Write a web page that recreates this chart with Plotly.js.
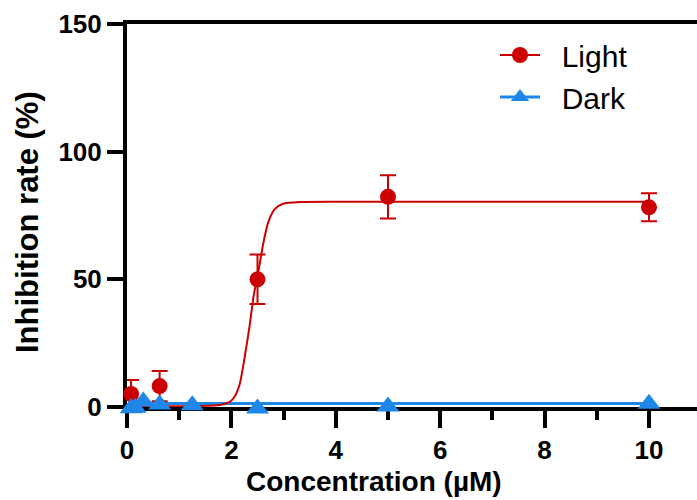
<!DOCTYPE html>
<html>
<head>
<meta charset="utf-8">
<script src="https://cdn.plot.ly/plotly-3.0.1.min.js"></script>
<style>html,body{margin:0;padding:0;background:#fff;}#chart{width:697px;height:500px;}</style>
</head>
<body>
<div id="chart"></div>
<script>
// Measured points
var lightX = [0.078, 0.625, 2.5, 5, 10];
var lightY = [5.1, 8.2, 50, 82.3, 78.2];
var lightErr = [5.5, 5.9, 9.7, 8.5, 5.5];

var darkX = [0.078, 0.156, 0.3125, 0.625, 1.25, 2.5, 5, 10];
var darkY = [-0.5, -0.3, 2.2, 1.0, 0.7, -0.6, 0.2, 1.3];

// Fitted curves
var lightFitX = [0.078, 0.5, 1.0, 1.39, 1.78, 1.97, 2.06, 2.16, 2.25, 2.35, 2.43, 2.49, 2.55, 2.61, 2.70, 2.83, 2.99, 3.31, 4, 6, 8, 10];
var lightFitY = [0.3, 0.3, 0.3, 0.4, 0.8, 2.0, 4.0, 9.0, 19, 32, 44, 50, 57, 64, 72, 77.5, 79.6, 80.3, 80.4, 80.4, 80.4, 80.4];
var darkFitX = [0.078, 10];
var darkFitY = [1.4, 1.4];

var seriesNames = ['Light', 'Dark'];
var xTicks = [0, 2, 4, 6, 8, 10];
var yTicks = [0, 50, 100, 150];

var red = '#cc0000';
var blue = '#1f87e8';

// geometry: main y axis [0,150] spans 383px; an invisible twin axis with the same scale
// extends a little below 0 so the markers sitting on the baseline are not hidden.
var plotTop = 24, plotBottom = 425, yZeroPx = 407;
var pxPerUnit = (yZeroPx - plotTop) / 150;
var extraBelow = (plotBottom - yZeroPx) / pxPerUnit;
var mainDomainStart = (plotBottom - yZeroPx) / (plotBottom - plotTop);

var traces = [
  {x: darkFitX, y: darkFitY, mode: 'lines', line: {color: blue, width: 3}, showlegend: false, hoverinfo: 'skip'},
  {x: lightFitX, y: lightFitY, mode: 'lines', line: {color: red, width: 2, shape: 'spline', smoothing: 0.6}, showlegend: false, hoverinfo: 'skip', cliponaxis: false},
  {x: darkX, y: darkY, yaxis: 'y2', mode: 'markers', marker: {symbol: 'triangle-up', size: 20, color: blue}, showlegend: false, cliponaxis: false},
  {x: lightX, y: lightY, mode: 'markers', marker: {symbol: 'circle', size: 16, color: red},
   error_y: {type: 'data', array: lightErr, visible: true, color: red, thickness: 2, width: 8}, showlegend: false, cliponaxis: false},
  {x: [null], y: [null], mode: 'lines+markers', name: '\u00a0\u00a0' + seriesNames[0], line: {color: red, width: 2}, marker: {symbol: 'circle', size: 16, color: red}},
  {x: [null], y: [null], mode: 'lines+markers', name: '\u00a0\u00a0' + seriesNames[1], line: {color: blue, width: 3}, marker: {symbol: 'triangle-up', size: 20, color: blue}}
];

var tickFont = {family: 'Liberation Sans, Arial, sans-serif', size: 26, color: '#000', weight: 'bold'};

var layout = {
  width: 697, height: 500,
  margin: {l: 127, r: 0, t: plotTop, b: 500 - plotBottom},
  paper_bgcolor: '#fff', plot_bgcolor: 'rgba(0,0,0,0)',
  showlegend: true,
  legend: {x: (495 - 127) / 570, xanchor: 'left', y: 1 - (29 - 24) / (plotBottom - plotTop), yanchor: 'top',
    font: {family: 'Liberation Sans, Arial, sans-serif', size: 30, color: '#000'},
    itemwidth: 40, tracegroupgap: 0, bgcolor: 'rgba(0,0,0,0)'},
  xaxis: {range: [0, 570 / 52.2], tickvals: xTicks, ticktext: xTicks.map(String), anchor: 'y',
    showline: true, linecolor: '#000', linewidth: 4, mirror: true, layer: 'below traces',
    ticks: 'outside', ticklen: 17, tickwidth: 4, tickcolor: '#000',
    minor: {dtick: 1, tick0: 0, ticks: 'outside', ticklen: 9, tickwidth: 4, tickcolor: '#000'},
    showgrid: false, zeroline: false, tickfont: tickFont, fixedrange: true},
  yaxis: {range: [0, 150], domain: [mainDomainStart, 1], tickvals: yTicks, ticktext: yTicks.map(String),
    showline: true, linecolor: '#000', linewidth: 4, layer: 'below traces',
    ticks: 'outside', ticklen: 16, tickwidth: 4, tickcolor: '#000',
    showgrid: false, zeroline: false, tickfont: tickFont, fixedrange: true},
  yaxis2: {range: [-extraBelow, 150], domain: [0, 1], anchor: 'x', visible: false, showgrid: false, zeroline: false, fixedrange: true},
  annotations: [
    {text: 'Concentration (µM)', xref: 'paper', yref: 'paper', x: (374 - 127) / 570, y: -(482 - plotBottom) / (plotBottom - plotTop),
     xanchor: 'center', yanchor: 'middle', showarrow: false,
     font: {family: 'Liberation Sans, Arial, sans-serif', size: 28, color: '#000', weight: 'bold'}},
    {text: 'Inhibition rate (%)', xref: 'paper', yref: 'paper', x: (27 - 127) / 570, y: (plotBottom - 222) / (plotBottom - plotTop),
     xanchor: 'center', yanchor: 'middle', showarrow: false, textangle: -90,
     font: {family: 'Liberation Sans, Arial, sans-serif', size: 31, color: '#000', weight: 'bold'}}
  ]
};

Plotly.newPlot('chart', traces, layout, {displayModeBar: false, staticPlot: true});
</script>
</body>
</html>
